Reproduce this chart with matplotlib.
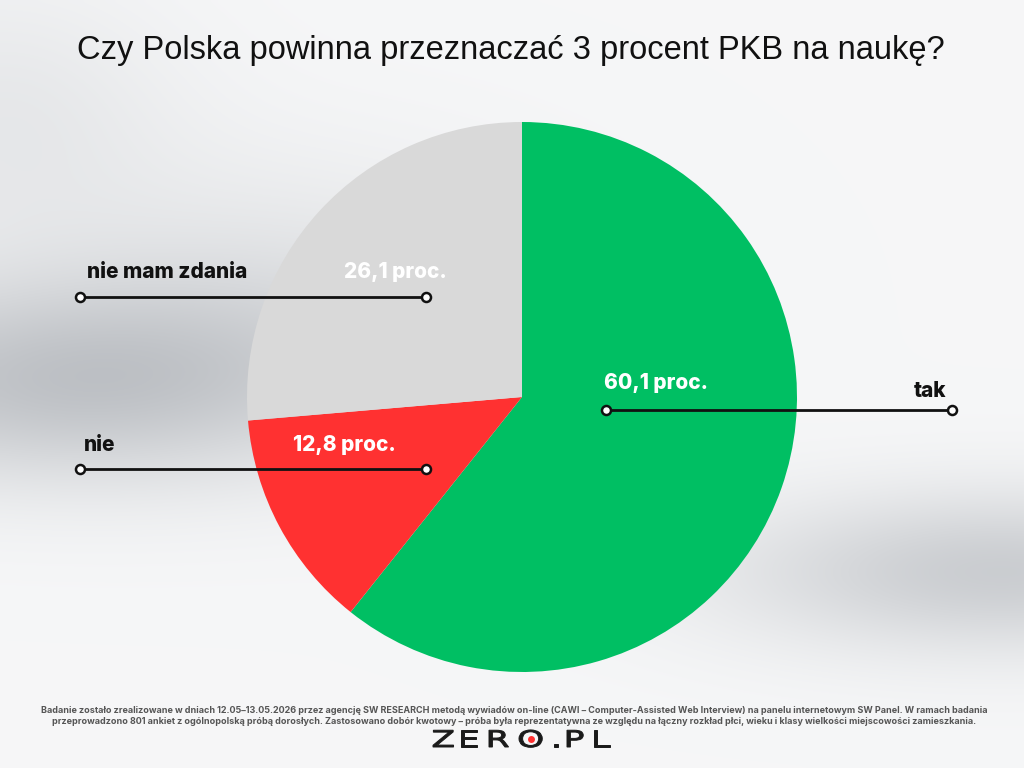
import numpy as np
import matplotlib
matplotlib.use("Agg")
import matplotlib.pyplot as plt
from matplotlib.textpath import TextPath
from matplotlib.patches import PathPatch
from matplotlib.font_manager import FontProperties
from matplotlib.transforms import Affine2D

title = "Czy Polska powinna przeznaczać 3 procent PKB na naukę?"
categories = ["tak", "nie", "nie mam zdania"]
values = [60.1, 12.8, 26.1]
value_labels = ["60,1 proc.", "12,8 proc.", "26,1 proc."]
colors = ["#00BF63", "#FF3131", "#D9D9D9"]
footnote = ("Badanie zostało zrealizowane w dniach 12.05–13.05.2026 przez agencję SW RESEARCH metodą wywiadów on-line (CAWI – Computer-Assisted Web Interview) na panelu internetowym SW Panel. W ramach badania\n"
            "przeprowadzono 801 ankiet z ogólnopolską próbą dorosłych. Zastosowano dobór kwotowy – próba była reprezentatywna ze względu na łączny rozkład płci, wieku i klasy wielkości miejscowości zamieszkania.")

W, H = 1024, 768
fig = plt.figure(figsize=(W / 100, H / 100), dpi=100)

# background: soft grey-blue haze bands
bg = fig.add_axes([0, 0, 1, 1], zorder=0)
yy, xx = np.mgrid[0:H:4, 0:W:4].astype(float)
shade = (0.20 * np.exp(-(((xx - 60) / 300) ** 2 + ((yy - 380) / 100) ** 2))
         + 0.07 * np.exp(-(((xx - 300) / 250) ** 2 + ((yy - 300) / 140) ** 2))
         + 0.17 * np.exp(-(((xx - 1000) / 280) ** 2 + ((yy - 570) / 80) ** 2))
         + 0.06 * np.exp(-(((xx - 0) / 180) ** 2 + ((yy - 120) / 140) ** 2)))
base = np.array([0.965, 0.968, 0.972])
tint = np.array([1.0, 0.96, 0.90])
img = np.clip(base[None, None, :] - shade[..., None] * tint[None, None, :], 0, 1)
bg.imshow(img, extent=[0, W, H, 0], aspect="auto", interpolation="bicubic")
bg.set_axis_off()

# pie
cx, cy, r = 522, 397, 275
pax = fig.add_axes([(cx - r) / W, (H - cy - r) / H, 2 * r / W, 2 * r / H], zorder=1)
pax.pie(values, colors=colors, startangle=90, counterclock=False, radius=1,
        wedgeprops=dict(linewidth=0))
pax.set_xlim(-1, 1)
pax.set_ylim(-1, 1)
pax.set_aspect("equal")
pax.set_axis_off()

# overlay in pixel coordinates
ov = fig.add_axes([0, 0, 1, 1], zorder=2)
ov.set_xlim(0, W)
ov.set_ylim(H, 0)
ov.set_axis_off()
ov.patch.set_alpha(0)

ov.text(511, 50, title, ha="center", va="center", fontsize=23.5, family="Liberation Sans", color="#111111")

bold = dict(family="Inter", fontweight="heavy", fontsize=15)

def leader(x0, x1, y):
    ov.plot([x0, x1], [y, y], color="#111111", lw=2, solid_capstyle="butt")
    ov.plot([x0, x1], [y, y], ls="none", marker="o", ms=6.5, mfc="white", mec="#111111", mew=1.8)

# nie mam zdania
leader(80, 426, 297)
ov.text(87, 272, categories[2], ha="left", va="center", color="#111111", **bold)
ov.text(447, 272, value_labels[2], ha="right", va="center", color="white", **bold)
# nie
leader(80, 426, 469)
ov.text(84, 445, categories[1], ha="left", va="center", color="#111111", **bold)
ov.text(396, 445, value_labels[1], ha="right", va="center", color="white", **bold)
# tak
leader(606, 952, 410)
ov.text(604, 383, value_labels[0], ha="left", va="center", color="white", **bold)
ov.text(946, 391, categories[0], ha="right", va="center", color="#111111", **bold)

ov.text(514, 716, footnote, ha="center", va="center", fontsize=6.5, family="Inter",
        fontweight="bold", color="#555555", linespacing=1.2)

# logo: wide letters, each placed by its ink left edge
fp = FontProperties(family="DejaVu Sans", weight="normal")
logo_chars = ["Z", "E", "R", "O", ".", "P", "L"]
logo_left = [433, 461, 489, 519, 554, 567, 594]
sx = 1.5
dot_x = None
for ch, x in zip(logo_chars, logo_left):
    tp = TextPath((0, 0), ch, size=23, prop=fp)
    ext = tp.get_extents()
    tr = Affine2D().translate(-ext.x0, 0).scale(sx, -1.0).translate(x, 747)
    ov.add_patch(PathPatch(tp, transform=tr + ov.transData, facecolor="#1a1a1a",
                           edgecolor="#1a1a1a", lw=0.7))
    if ch == "O":
        dot_x = x + ext.width * sx / 2
        dot_y = 747 - ext.height / 2 - ext.y0
ov.plot([dot_x], [dot_y], marker="o", ms=5, color="#FF3131", mec="none")

fig.savefig("out.png", dpi=100)
